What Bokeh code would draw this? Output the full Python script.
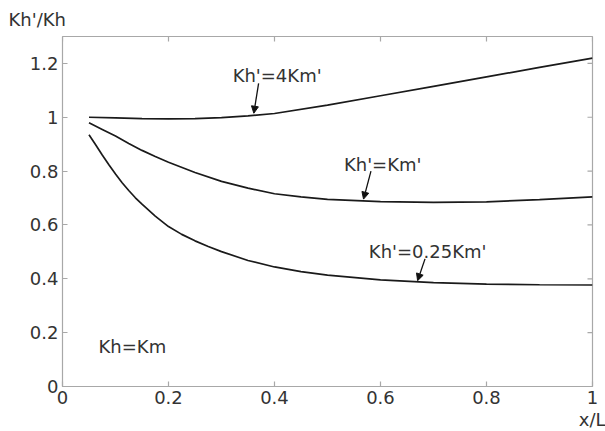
from bokeh.plotting import figure
from bokeh.models import (Range1d, FixedTicker, LinearAxis, Label, Arrow, NormalHead, Title)
from bokeh.embed import file_html
from bokeh.resources import INLINE

# ---- data ----
x_4km = [0.05, 0.1, 0.15, 0.2, 0.25, 0.3, 0.35, 0.4, 0.5, 0.6, 0.7, 0.8, 0.9, 1.0]
y_4km = [1.0, 0.998, 0.995, 0.994, 0.995, 0.999, 1.005, 1.014, 1.045, 1.08, 1.115, 1.15, 1.185, 1.22]

x_km = [0.05, 0.075, 0.1, 0.125, 0.15, 0.175, 0.2, 0.25, 0.3, 0.35, 0.4, 0.45, 0.5, 0.6, 0.7, 0.8, 0.9, 1.0]
y_km = [0.98, 0.955, 0.93, 0.903, 0.877, 0.854, 0.833, 0.795, 0.762, 0.737, 0.716, 0.704, 0.695, 0.687, 0.684, 0.686, 0.694, 0.704]

x_025km = [0.05, 0.0625, 0.075, 0.0875, 0.1, 0.1125, 0.125, 0.1375, 0.15, 0.175, 0.2, 0.225, 0.25, 0.275,
           0.3, 0.35, 0.4, 0.45, 0.5, 0.6, 0.7, 0.8, 0.9, 1.0]
y_025km = [0.935, 0.898, 0.86, 0.824, 0.789, 0.757, 0.728, 0.701, 0.677, 0.633, 0.594, 0.565, 0.541, 0.52,
           0.501, 0.468, 0.444, 0.427, 0.414, 0.396, 0.386, 0.38, 0.378, 0.377]

x_ticks = [0, 0.2, 0.4, 0.6, 0.8, 1.0]
x_tick_labels = ["0", "0.2", "0.4", "0.6", "0.8", "1"]
y_ticks = [0, 0.2, 0.4, 0.6, 0.8, 1.0, 1.2]
y_tick_labels = ["0", "0.2", "0.4", "0.6", "0.8", "1", "1.2"]

# annotations: (text, x_left, y_center, arrow x0, y0, x1, y1)
curve_notes = [
    ("Kh'=4Km'", 0.321, 1.156, 0.370, 1.126, 0.361, 1.015),
    ("Kh'=Km'", 0.531, 0.826, 0.582, 0.800, 0.568, 0.696),
    ("Kh'=0.25Km'", 0.578, 0.500, 0.684, 0.474, 0.670, 0.393),
]

FONT = "DejaVu Sans"
FS = "18px"
TXT = "#333333"
FRAME = "#a8a8a8"
X0, X1, Y0, Y1 = 0.0, 1.0, 0.0, 1.3

p = figure(width=605, height=431, output_backend="svg", toolbar_location=None,
           x_range=Range1d(X0, X1), y_range=Range1d(Y0, Y1),
           x_axis_type=None, y_axis_type=None,
           min_border_left=62, min_border_right=13, min_border_top=36, min_border_bottom=45)
p.grid.visible = False
p.outline_line_color = FRAME
p.outline_line_width = 1.2
p.background_fill_color = "white"
p.border_fill_color = "white"


def make_axis(ticks, labels):
    ax = LinearAxis(ticker=FixedTicker(ticks=ticks))
    ax.major_label_overrides = {t: l for t, l in zip(ticks, labels)}
    ax.axis_line_color = None
    ax.major_tick_in = 5
    ax.major_tick_out = 0
    ax.major_tick_line_color = FRAME
    ax.major_tick_line_width = 1.2
    ax.minor_tick_line_color = None
    ax.major_label_text_font = FONT
    ax.major_label_text_color = TXT
    ax.major_label_text_font_size = FS
    ax.major_label_standoff = 4
    return ax


p.add_layout(make_axis(x_ticks, x_tick_labels), "below")
p.add_layout(make_axis(y_ticks, y_tick_labels), "left")

# inward ticks on the top and right edges of the box
tick_dx = (X1 - X0) * 5 / 530.0
tick_dy = (Y1 - Y0) * 5 / 350.0
p.segment(x0=x_ticks, y0=[Y1] * len(x_ticks), x1=x_ticks, y1=[Y1 - tick_dy] * len(x_ticks),
          line_color=FRAME, line_width=1.2)
p.segment(x0=[X1] * len(y_ticks), y0=y_ticks, x1=[X1 - tick_dx] * len(y_ticks), y1=y_ticks,
          line_color=FRAME, line_width=1.2)

line_kw = dict(line_color="#1a1a1a", line_width=1.7)
p.line(x_4km, y_4km, **line_kw)
p.line(x_km, y_km, **line_kw)
p.line(x_025km, y_025km, **line_kw)

for text, tx, ty, ax0, ay0, ax1, ay1 in curve_notes:
    p.add_layout(Label(x=tx, y=ty, text=text, text_font=FONT, text_font_size=FS,
                       text_color=TXT, text_baseline="middle", text_align="left"))
    p.add_layout(Arrow(x_start=ax0, y_start=ay0, x_end=ax1, y_end=ay1,
                       line_color="#111111", line_width=1.3,
                       end=NormalHead(size=7, fill_color="#111111", line_color="#111111")))

p.add_layout(Label(x=0.068, y=0.148, text="Kh=Km", text_font=FONT, text_font_size=FS,
                   text_color=TXT, text_baseline="middle", text_align="left"))

# axis names placed outside the frame as titles
p.add_layout(Title(text="Kh'/Kh", align="left", offset=-54, standoff=10,
                   vertical_align="top",
                   text_font=FONT, text_font_size=FS, text_color=TXT,
                   text_font_style="normal"), "above")
p.add_layout(Title(text="x/L", align="right", offset=-13, standoff=0,
                   text_font=FONT, text_font_size=FS, text_color=TXT,
                   text_font_style="normal"), "below")

open("out.html", "w").write(file_html(p, INLINE))
